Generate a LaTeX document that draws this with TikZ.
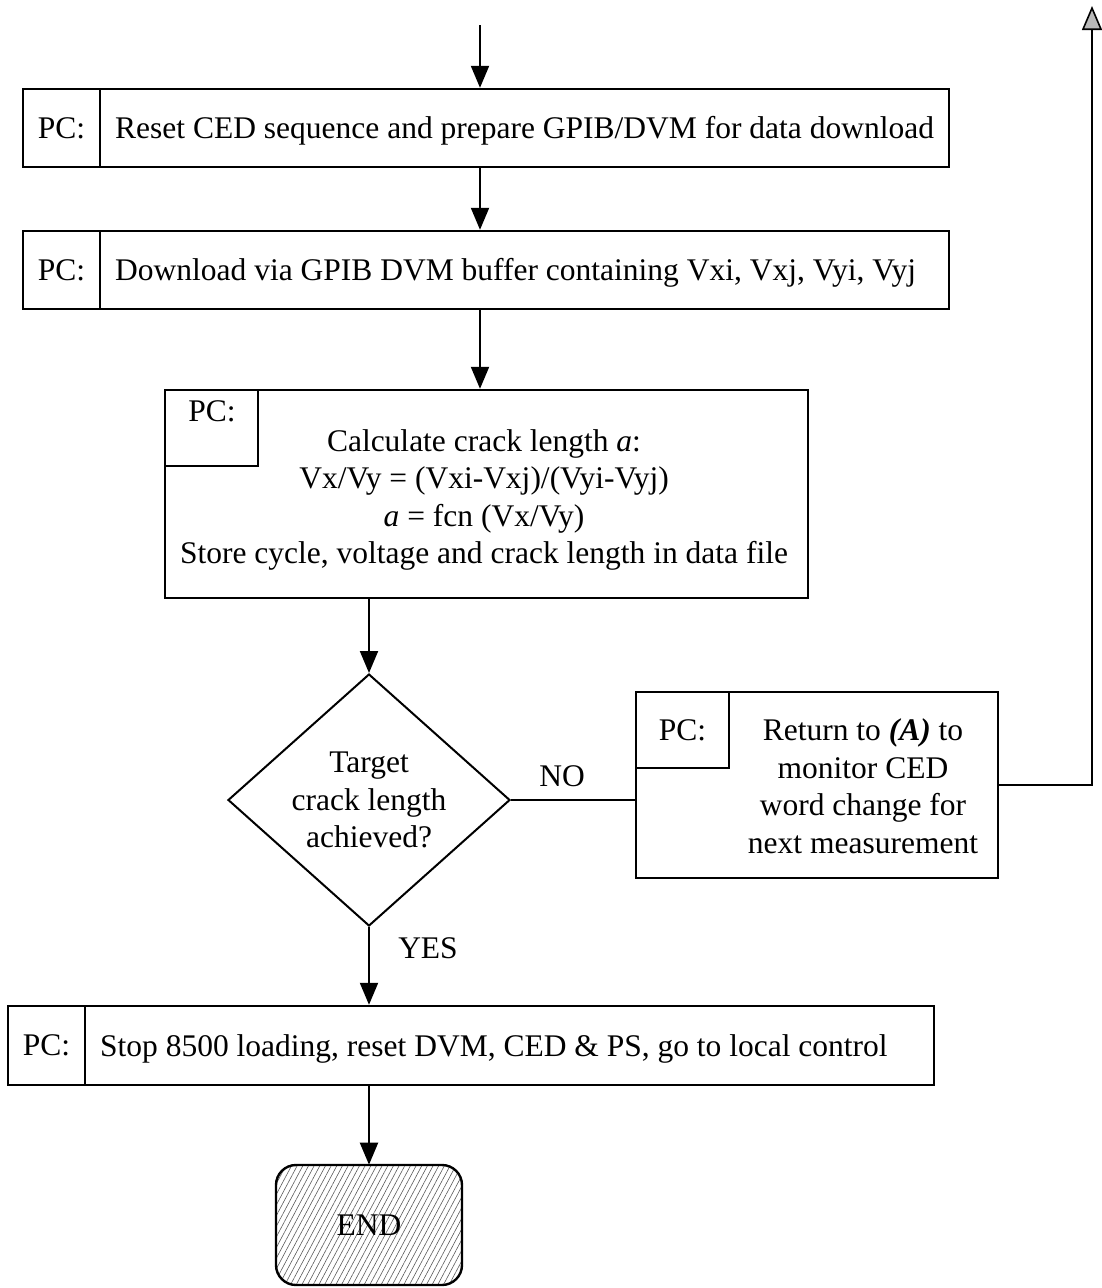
\documentclass[tikz,border=0pt]{standalone}
\usepackage{fontspec}
\setmainfont{Liberation Serif}
\usetikzlibrary{arrows.meta,shapes.geometric,patterns.meta}
\begin{document}
\begin{tikzpicture}[x=1pt,y=-1pt,
  every node/.style={font=\fontsize{31.5}{37.5}\selectfont, inner sep=0pt},
  box/.style={draw, line width=2.4pt, rectangle},
  flow/.style={line width=2pt, -{Triangle[length=22pt,width=18pt]}},
  link/.style={line width=2pt},
  back/.style={line width=2pt, -{Triangle[length=24pt,width=20pt,fill=gray!55,line width=1.6pt]}}
]
\useasboundingbox (0,0) rectangle (1101,1288);

% entry point and return target
\coordinate (start) at (480,25);
\coordinate (ret) at (1092,6);

% step 1
\node[box, minimum width=926pt, minimum height=78pt] (b1) at (486,128) {};
\node[box, minimum width=77pt, minimum height=78pt] (p1) at (61.5,128) {PC:};
\node[anchor=base west] (t1) at (115,138) {Reset CED sequence and prepare GPIB/DVM for data download};

% step 2
\node[box, minimum width=926pt, minimum height=78pt] (b2) at (486,270) {};
\node[box, minimum width=77pt, minimum height=78pt] (p2) at (61.5,270) {PC:};
\node[anchor=base west] (t2) at (115,280) {Download via GPIB DVM buffer containing Vxi, Vxj, Vyi, Vyj};

% step 3: crack length calculation
\node[box, minimum width=643pt, minimum height=208pt] (b3) at (486.5,494) {};
\node[box, minimum width=93pt, minimum height=76pt] (p3) at (211.5,428) {};
\node (p3t) at (212,411) {PC:};
\node[align=center] (t3) at (484,500) {Calculate crack length \textit{a}:\\
  Vx/Vy = (Vxi-Vxj)/(Vyi-Vyj)\\
  \textit{a} = fcn (Vx/Vy)\\
  Store cycle, voltage and crack length in data file};

% decision
\node[draw, diamond, line width=2pt, minimum width=282pt, minimum height=252pt,
      align=center] (d) at (369,800) {Target\\crack length\\achieved?};

% step 4: loop back
\node[box, minimum width=362pt, minimum height=186pt] (b4) at (817,785) {};
\node[box, minimum width=93pt, minimum height=76pt] (p4) at (682.5,730) {PC:};
\node[align=center] (t4) at (863,786) {Return to \textbf{\textit{(A)}} to\\
  monitor CED\\
  word change for\\
  next measurement};

% step 5: finish
\node[box, minimum width=926pt, minimum height=79pt] (b5) at (471,1045.5) {};
\node[box, minimum width=77pt, minimum height=79pt] (p5) at (46.5,1045.5) {PC:};
\node[anchor=base west] (t5) at (100,1056) {Stop 8500 loading, reset DVM, CED \& PS, go to local control};

% terminal
\node[draw, line width=2.4pt, rounded corners=20pt, minimum width=186pt, minimum height=120pt,
      pattern={Lines[angle=62,distance=5pt,line width=0.6pt]}, pattern color=gray!70!black] (end) at (369,1225) {END};

% labels on the decision branches
\node (no) at (562,776) {NO};
\node (yes) at (428,948) {YES};

% connectors
\draw[flow] (start) -- (start |- b1.north);
\draw[flow] (b1.south -| start) -- (b2.north -| start);
\draw[flow] (b2.south -| start) -- (b3.north -| start);
\draw[flow] (b3.south -| d.north) -- (d.north);
\draw[link] (d.east) -- (d.east -| b4.west);
\draw[back] (b4.east) -| (ret);
\draw[flow] (d.south) -- (d.south |- b5.north);
\draw[flow] (b5.south -| end.north) -- (end.north);
\end{tikzpicture}
\end{document}
